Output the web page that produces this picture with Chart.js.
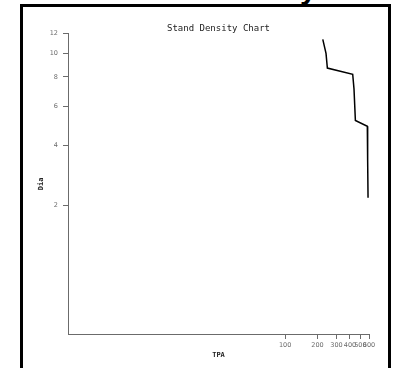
<!DOCTYPE html>
<html lang="en">
<head>
  <meta charset="UTF-8">
  <title>Stand Density Chart</title>
  <style>
    * { margin: 0; padding: 0; box-sizing: border-box; }
    body { width: 393px; height: 368px; overflow: hidden; background: #fff; position: relative; }
    #frame {
      position: absolute; left: 20px; top: 4px; width: 371px; height: 400px;
      border: 3px solid #000;
    }
    #cut {
      position: absolute; left: 300px; top: -26px;
      font: bold 30px "Liberation Sans", sans-serif; line-height: 1; color: #000;
    }
    #wrap { position: absolute; left: 0; top: 0; width: 393px; height: 368px; }
  </style>
  <script src="https://cdn.jsdelivr.net/npm/chart.js"></script>
</head>
<body>
  <span id="cut">y</span>
  <div id="frame"></div>
  <div id="wrap"><canvas id="chart"></canvas></div>

  <script>
    // cumulative trees per acre vs. diameter
    const tpa = [224, 240, 247, 424, 436, 449, 579, 583, 588];
    const dia = [11.4, 10.0, 8.7, 8.2, 7.1, 5.2, 4.9, 3.4, 2.2];
    const xTicks = [100, 200, 300, 400, 500, 600];
    const yTicks = [2, 4, 6, 8, 10, 12];

    // axis spaced by log(1 + v), so 0 sits at the origin
    class Log1pScale extends Chart.LinearScale {
      static id = 'log1p';
      static defaults = Chart.LinearScale.defaults;
      getPixelForValue(v) {
        const a = Math.log1p(this.min), b = Math.log1p(this.max);
        return this.getPixelForDecimal((Math.log1p(v) - a) / (b - a));
      }
      getValueForPixel(p) {
        const a = Math.log1p(this.min), b = Math.log1p(this.max);
        return Math.expm1(a + this.getDecimalForPixel(p) * (b - a));
      }
    }
    Chart.register(Log1pScale);

    const axisGrey = '#6b6b6b';
    const tickFont = { family: "'DejaVu Sans'", size: 6.5 };
    const titleFont = { family: "'DejaVu Sans Mono'", size: 7, weight: 'bold' };

    new Chart(document.getElementById('chart'), {
      type: 'scatter',
      data: {
        datasets: [{
          data: tpa.map((t, i) => ({ x: t, y: dia[i] })),
          showLine: true,
          borderColor: '#000',
          borderWidth: 1.5,
          pointRadius: 0,
          tension: 0
        }]
      },
      options: {
        responsive: true,
        maintainAspectRatio: false,
        animation: false,
        layout: { padding: { left: 0, right: 24, top: 0, bottom: 0 } },
        plugins: {
          legend: { display: false },
          tooltip: { enabled: false },
          title: {
            display: true,
            fullSize: false,
            text: 'Stand Density Chart',
            color: '#222',
            font: { family: "'DejaVu Sans Mono'", size: 9, weight: 'normal' },
            padding: { top: 23, bottom: 0 }
          }
        },
        scales: {
          x: {
            type: 'log1p',
            min: 0, max: 600,
            afterBuildTicks: s => { s.ticks = xTicks.map(v => ({ value: v })); },
            afterFit: s => { s.height = 34; },
            ticks: { color: axisGrey, font: tickFont, padding: 2, maxRotation: 0, autoSkip: false },
            grid: { drawOnChartArea: false, tickLength: 5, color: axisGrey },
            border: { color: axisGrey },
            title: { display: true, text: 'TPA', color: '#222', font: titleFont, padding: { top: 0, bottom: 9 } }
          },
          y: {
            type: 'log1p',
            min: 0, max: 12,
            afterBuildTicks: s => { s.ticks = yTicks.map(v => ({ value: v })); },
            afterFit: s => { s.width = 68; },
            ticks: { color: axisGrey, font: tickFont, padding: 5, autoSkip: false },
            grid: { drawOnChartArea: false, tickLength: 5, color: axisGrey },
            border: { color: axisGrey },
            title: { display: true, text: 'Dia', color: '#222', font: titleFont, padding: { top: 37, bottom: 0 } }
          }
        }
      }
    });
  </script>
</body>
</html>
